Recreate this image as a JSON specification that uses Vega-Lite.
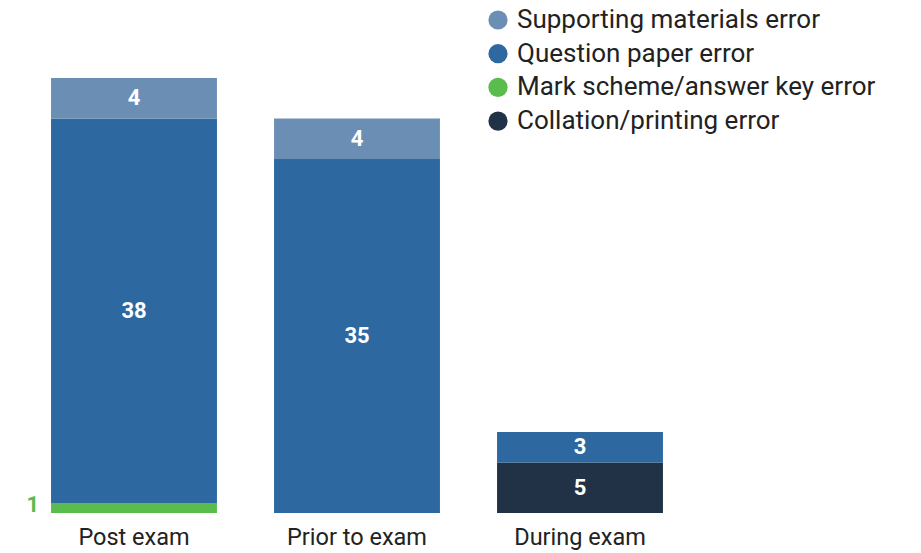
{
  "$schema": "https://vega.github.io/schema/vega-lite/v6.json",
  "autosize": "none",
  "width": 669,
  "height": 435,
  "padding": {"left": 22.5, "top": 78, "right": 229.5, "bottom": 40},
  "background": "white",
  "config": {
    "view": {"stroke": null},
    "font": "Roboto"
  },
  "data": {
    "values": [
      {"stage": "Post exam", "type": "Mark scheme/answer key error", "count": 1},
      {"stage": "Post exam", "type": "Question paper error", "count": 38},
      {"stage": "Post exam", "type": "Supporting materials error", "count": 4},
      {"stage": "Prior to exam", "type": "Question paper error", "count": 35},
      {"stage": "Prior to exam", "type": "Supporting materials error", "count": 4},
      {"stage": "During exam", "type": "Collation/printing error", "count": 5},
      {"stage": "During exam", "type": "Question paper error", "count": 3}
    ]
  },
  "transform": [
    {"calculate": "indexof(['Mark scheme/answer key error','Collation/printing error','Question paper error','Supporting materials error'], datum.type)", "as": "rank"},
    {"stack": "count", "groupby": ["stage"], "sort": [{"field": "rank", "order": "ascending"}], "as": ["y0", "y1"]},
    {"calculate": "(datum.y0 + datum.y1) / 2", "as": "ymid"}
  ],
  "encoding": {
    "x": {
      "field": "stage",
      "type": "nominal",
      "sort": ["Post exam", "Prior to exam", "During exam"],
      "scale": {"paddingInner": 0.256, "paddingOuter": 0.128},
      "axis": {
        "title": null,
        "domain": false,
        "ticks": false,
        "labelAngle": 0,
        "labelFontSize": 23.5,
        "labelColor": "#222222",
        "labelFont": "Roboto",
        "labelPadding": 12
      }
    }
  },
  "layer": [
    {
      "mark": {"type": "bar"},
      "encoding": {
        "y": {"field": "y1", "type": "quantitative", "scale": {"domain": [0, 43], "nice": false, "zero": true}, "axis": null},
        "y2": {"field": "y0"},
        "color": {
          "field": "type",
          "type": "nominal",
          "scale": {
            "domain": ["Supporting materials error", "Question paper error", "Mark scheme/answer key error", "Collation/printing error"],
            "range": ["#6b8fb4", "#2d68a0", "#59bc4d", "#213246"]
          },
          "legend": {
            "title": null,
            "orient": "none",
            "legendX": 462.5,
            "legendY": -71,
            "symbolType": "circle",
            "symbolSize": 370,
            "symbolStrokeWidth": 0,
            "labelFontSize": 26,
            "labelColor": "#222222",
            "labelFont": "Roboto",
            "labelOffset": 6,
            "rowPadding": 7.7,
            "padding": 0,
            "labelLimit": 500
          }
        }
      }
    },
    {
      "transform": [{"filter": "datum.count >= 2"}],
      "mark": {"type": "text", "color": "white", "fontWeight": "bold", "fontSize": 22, "baseline": "middle", "align": "center"},
      "encoding": {
        "y": {"field": "ymid", "type": "quantitative"},
        "text": {"field": "count", "type": "quantitative"}
      }
    },
    {
      "transform": [{"filter": "datum.count < 2"}],
      "mark": {"type": "text", "color": "#59bc4d", "fontWeight": "bold", "fontSize": 22, "baseline": "middle", "align": "right", "dx": -12, "dy": -3},
      "encoding": {
        "x": {"field": "stage", "type": "nominal", "sort": ["Post exam", "Prior to exam", "During exam"], "bandPosition": 0},
        "y": {"field": "ymid", "type": "quantitative"},
        "text": {"field": "count", "type": "quantitative"}
      }
    }
  ]
}
